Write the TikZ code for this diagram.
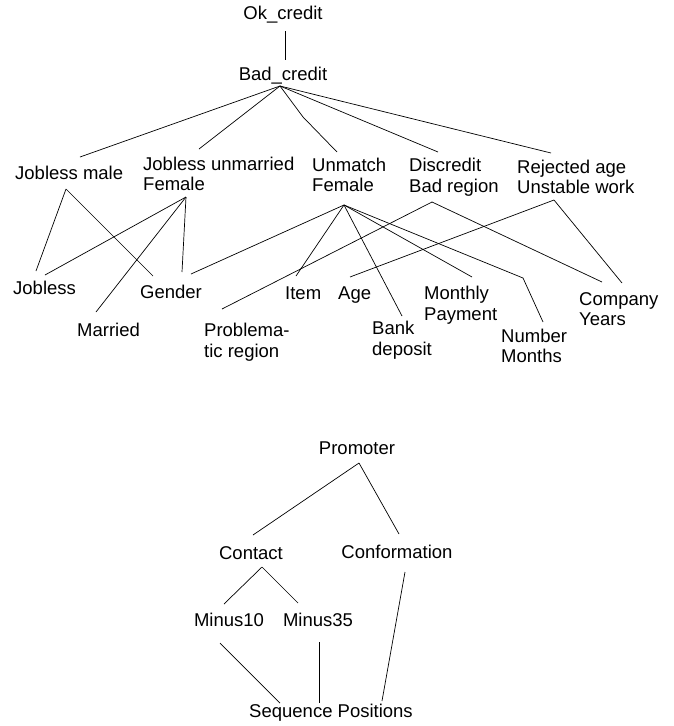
\documentclass[tikz,border=0pt]{standalone}
\usepackage{fontspec}
\setmainfont{Liberation Sans}
\usepackage{tikz}
\usetikzlibrary{calc}
\tikzset{
lbl/.style={inner sep=0pt,anchor=west,align=left,font=\fontsize{18.5}{20.5}\selectfont},
mid/.style={lbl,anchor=center,align=center},
link/.style={line width=0.7pt,draw=black},
}

\begin{document}
\begin{tikzpicture}[x=1pt,y=-1pt]
\useasboundingbox (0,0) rectangle (674,726);
\node[mid] (okc) at (283,15) {Ok\_credit};
\node[mid] (badc) at (283,76) {Bad\_credit};
\node[lbl] (jm) at (15,173) {Jobless male};
\node[lbl] (juf) at (143,174) {Jobless unmarried\\Female};
\node[lbl] (umf) at (312,175) {Unmatch\\Female};
\node[lbl] (dbr) at (409,177) {Discredit\\Bad region};
\node[lbl] (rau) at (517,177) {Rejected age\\Unstable work};
\node[lbl] (jobless) at (13,288) {Jobless};
\node[lbl] (gender) at (140,292) {Gender};
\node[lbl] (married) at (77,330) {Married};
\node[lbl] (prob) at (204,342) {Problema-\\tic region};
\node[lbl] (item) at (285,293) {Item};
\node[lbl] (age) at (338,295) {Age};
\node[lbl] (bank) at (372,340) {Bank\\deposit};
\node[lbl] (monthly) at (424,305) {Monthly\\Payment};
\node[lbl] (number) at (501,346) {Number\\Months};
\node[lbl] (company) at (579,309) {Company\\Years};

\coordinate (badc-a) at ([shift={(-3,10)}]badc.center);
\coordinate (jm-a) at ([shift={(51,16)}]jm.west);
\coordinate (juf-a) at ([shift={(43,23)}]juf.west);
\coordinate (umf-a) at ([shift={(32,30)}]umf.west);
\coordinate (dbr-a) at ([shift={(23,25)}]dbr.west);
\coordinate (rau-a) at ([shift={(37,23)}]rau.west);

\draw[link] ([shift={(2,16)}]okc.center) -- ([shift={(2,-16)}]badc.center);
\draw[link] (badc-a) -- ([shift={(65,-16)}]jm.west);
\draw[link] (badc-a) -- ([shift={(56,-25)}]juf.west);
\draw[link] (badc-a) -- ++(23,31) -- ([shift={(25,-23)}]umf.west);
\draw[link] (badc-a) -- ([shift={(29,-25)}]dbr.west);
\draw[link] (badc-a) -- ([shift={(34,-24)}]rau.west);

\draw[link] (jm-a) -- ([shift={(23,-17)}]jobless.west);
\draw[link] (jm-a) -- ([shift={(13,-16)}]gender.west);
\draw[link] (juf-a) -- ([shift={(32,-13)}]jobless.west);
\draw[link] (juf-a) -- ([shift={(19,-18)}]married.west);
\draw[link] (juf-a) -- ([shift={(42,-20)}]gender.west);
\draw[link] (umf-a) -- ([shift={(51,-18)}]gender.west);
\draw[link] (umf-a) -- ([shift={(11,-17)}]item.west);
\draw[link] (umf-a) -- ([shift={(30,-24)}]bank.west);
\draw[link] (umf-a) -- ([shift={(48,-28)}]monthly.west);
\draw[link] (umf-a) -- ++(179,73) -- ([shift={(42,-24)}]number.west);
\draw[link] (dbr-a) -- ([shift={(18,-33)}]prob.west);
\draw[link] (dbr-a) -- ([shift={(23,-27)}]company.west);
\draw[link] (rau-a) -- ([shift={(12,-18)}]age.west);
\draw[link] (rau-a) -- ([shift={(43,-26)}]company.west);

\node[mid] (prom) at (357,448) {Promoter};
\node[mid] (contact) at (251,553) {Contact};
\node[mid] (conf) at (397,552) {Conformation};
\node[mid] (m10) at (229,620) {Minus10};
\node[mid] (m35) at (318,620) {Minus35};
\node[mid] (seq) at (331,713) {Sequence Positions};

\coordinate (prom-a) at ([shift={(2,15)}]prom.center);
\coordinate (contact-a) at ([shift={(11,14)}]contact.center);

\draw[link] (prom-a) -- ([shift={(2,-18)}]contact.center);
\draw[link] (prom-a) -- ([shift={(2,-18)}]conf.center);
\draw[link] (contact-a) -- ([shift={(-5,-16)}]m10.center);
\draw[link] (contact-a) -- ([shift={(-20,-17)}]m35.center);
\draw[link] ([shift={(-9,23)}]m10.center) -- ([shift={(-51,-10)}]seq.center);
\draw[link] ([shift={(1,22)}]m35.center) -- ([shift={(-12,-10)}]seq.center);
\draw[link] ([shift={(8,20)}]conf.center) -- ([shift={(51,-12)}]seq.center);
\end{tikzpicture}
\end{document}
